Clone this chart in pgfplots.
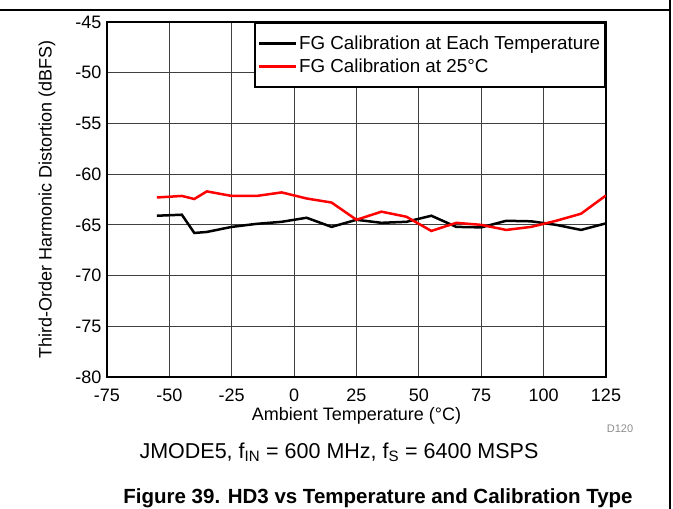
\documentclass[border=0pt]{standalone}
\usepackage{fontspec}
\setmainfont{Liberation Sans}
\usepackage{pgfplots}
\pgfplotsset{compat=1.18}

% each temperature calibration
\pgfplotstableread{
t    hd3
-55  -64.1
-45  -64.0
-40  -65.8
-35  -65.7
-25  -65.2
-15  -64.9
-5   -64.7
5    -64.3
15   -65.2
25   -64.5
35   -64.8
45   -64.7
55   -64.1
65   -65.2
75   -65.25
85   -64.6
95   -64.65
105  -65.0
115  -65.5
125  -64.85
}\eachtemp

% calibration at 25C only
\pgfplotstableread{
t    hd3
-55  -62.3
-45  -62.15
-40  -62.45
-35  -61.7
-25  -62.15
-15  -62.15
-5   -61.8
5    -62.4
15   -62.8
25   -64.5
35   -63.7
45   -64.2
55   -65.6
65   -64.8
75   -65.0
85   -65.5
95   -65.2
105  -64.6
115  -63.9
125  -62.1
}\calroom

\begin{document}
\begin{tikzpicture}[x=1pt,y=1pt]
\path[use as bounding box] (-107,-132) rectangle (566,377);
\draw[line width=1.3pt] (-107,367) -- (563,367);
\draw[line width=1.3pt] (563,377) -- (563,-132);
\begin{axis}[
    at={(0,0)}, anchor=south west,
    scale only axis,
    width=499pt, height=355pt,
    xmin=-75, xmax=125, ymin=-80, ymax=-45,
    xtick={-75,-50,...,125},
    ytick={-80,-75,...,-45},
    major tick length=0pt,
    grid=major,
    grid style={line width=0.8pt, black!75},
    axis line style={line width=2pt},
    font=\fontsize{18}{21.6}\selectfont,
    /pgf/number format/assume math mode=true,
    xticklabel style={yshift=-8pt, text height=13pt, text depth=0pt},
    yticklabel style={xshift=-2pt},
    xlabel={Ambient Temperature (°C)},
    ylabel={Third-Order Harmonic Distortion (dBFS)},
    every axis x label/.style={at={(axis description cs:0.5,0)}, anchor=center, yshift=-39pt},
    every axis y label/.style={at={(axis description cs:0,0.5)}, xshift=-60pt, anchor=center, rotate=90},
    legend style={at={(rel axis cs:1,1)}, anchor=north east, draw=black,
        line width=2pt, fill=white, inner xsep=3pt, inner ysep=11pt,
        font=\fontsize{18.8}{22}\selectfont, row sep=4pt},
    legend cell align=left,
    legend image code/.code={\path (0pt,0pt) -- (37pt,0pt);
        \draw[#1,line width=2.5pt] (2pt,0pt) -- (37pt,0pt);},
]
\addplot[black, line width=2.5pt] table[x=t,y=hd3] {\eachtemp};
\addplot[red, line width=2.5pt] table[x=t,y=hd3] {\calroom};
\legend{FG Calibration at Each Temperature, FG Calibration at 25°C}
\end{axis}
\node[text=black!45, font=\fontsize{11}{13}\selectfont] at (513,-52) {D120};
\node[font=\fontsize{21.5}{25}\selectfont] at (232,-75) {JMODE5, f\textsubscript{IN} = 600 MHz, f\textsubscript{S} = 6400 MSPS};
\node[font=\fontsize{20.5}{24}\selectfont\bfseries] at (271,-121) {Figure 39. HD3 vs Temperature and Calibration Type};
\end{tikzpicture}
\end{document}
